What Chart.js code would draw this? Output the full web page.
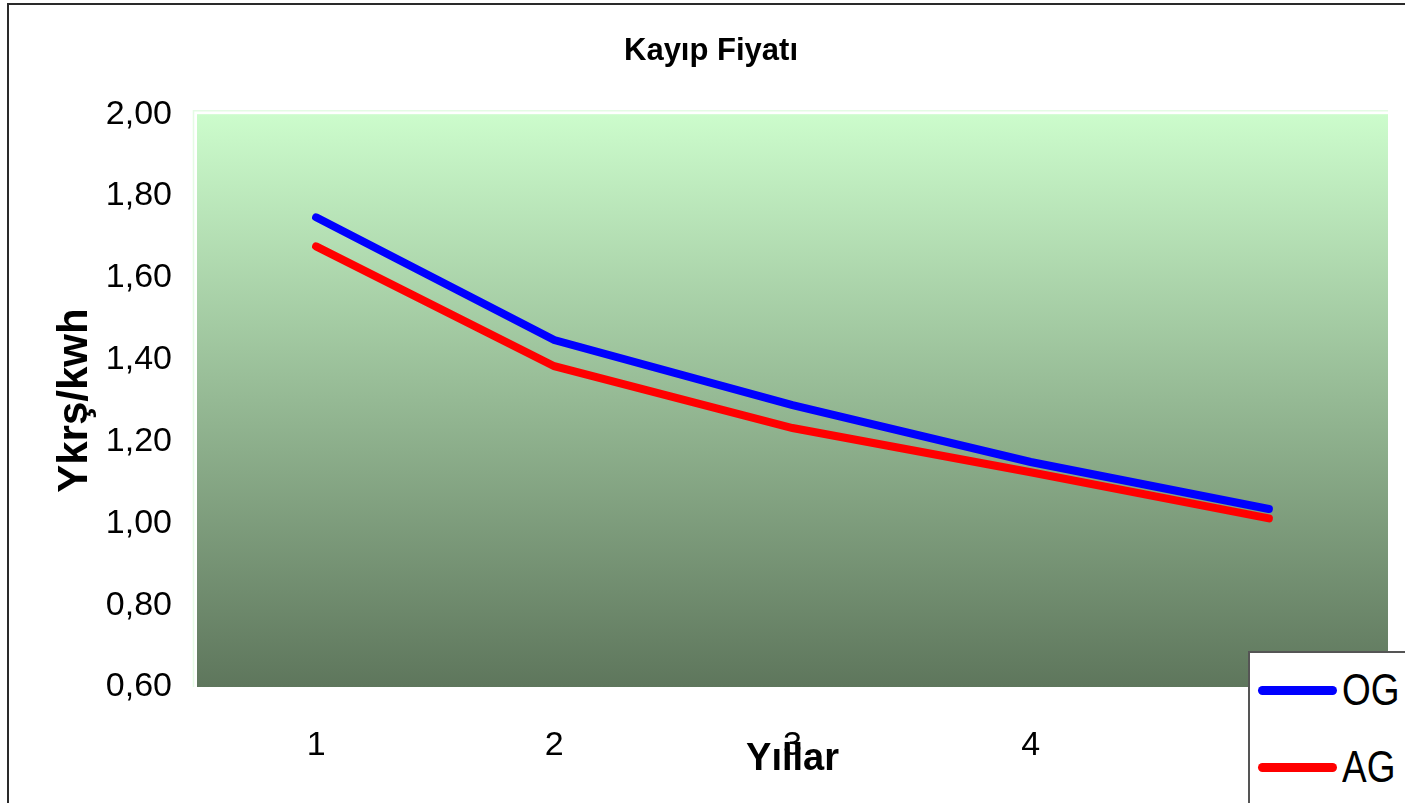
<!DOCTYPE html>
<html lang="tr">
<head>
    <meta charset="UTF-8">
    <title>Kayıp Fiyatı</title>
    <script src="https://cdn.jsdelivr.net/npm/chart.js"></script>
    <style>
        body { margin: 0; overflow: hidden; background: #fff; }
        #wrap { position: relative; width: 1405px; height: 803px; overflow: hidden; }
        #frame { position: absolute; left: 7px; top: 3px; width: 1600px; height: 1000px;
                 border-left: 2px solid #2a2a2a; border-top: 2px solid #2a2a2a; }
        #graph { position: absolute; left: 0; top: 0; }
        #legend { position: absolute; left: 1248px; top: 651px; width: 300px; height: 300px;
                  background: #fff; border-left: 2px solid #555; border-top: 2px solid #555; }
        .item { position: absolute; left: 8px; height: 50px; display: flex; align-items: center;
                font-family: 'Liberation Sans', Arial, sans-serif; font-size: 44px; }
        .item span.line { display: inline-block; width: 79px; height: 9px; border-radius: 5px; margin-right: 5px; }
        .item span.txt { display: inline-block; transform: scaleX(0.84); transform-origin: left center; }
    </style>
</head>
<body>
<div id="wrap">
    <div id="frame"></div>
    <canvas id="graph" width="1405" height="803"></canvas>
    <div id="legend"></div>
</div>

<script>
    // veriler
    const years = ['1', '2', '3', '4', '5'];
    const og = [1.748, 1.448, 1.289, 1.150, 1.035];
    const ag = [1.677, 1.384, 1.233, 1.125, 1.012];
    const seriesNames = ['OG', 'AG'];
    const seriesColors = ['#0000ff', '#ff0000'];

    const font = "'Liberation Sans', Arial, sans-serif";

    // çizim alanı arka planı (yeşil degrade)
    const plotBg = {
        id: 'plotBg',
        beforeDraw(chart) {
            const { ctx, chartArea: a } = chart;
            const g = ctx.createLinearGradient(0, a.top, 0, a.bottom);
            g.addColorStop(0, 'rgb(204,252,204)');
            g.addColorStop(1, 'rgb(94,118,92)');
            ctx.save();
            ctx.fillStyle = g;
            ctx.fillRect(a.left, a.top, a.right - a.left, a.bottom - a.top);
            ctx.strokeStyle = '#e4fbe4';
            ctx.lineWidth = 1.5;
            ctx.beginPath();
            ctx.moveTo(a.left - 3.5, a.bottom);
            ctx.lineTo(a.left - 3.5, a.top - 3.5);
            ctx.lineTo(a.right, a.top - 3.5);
            ctx.stroke();
            ctx.restore();
        }
    };

    const ctx = document.getElementById('graph').getContext('2d');
    const chart = new Chart(ctx, {
        type: 'line',
        data: {
            labels: years,
            datasets: [
                { label: seriesNames[0], data: og, borderColor: seriesColors[0] },
                { label: seriesNames[1], data: ag, borderColor: seriesColors[1] }
            ]
        },
        options: {
            responsive: false,
            animation: false,
            layout: { padding: { left: 34, right: 17, top: 0, bottom: 0 } },
            elements: {
                line: { borderWidth: 8, borderCapStyle: 'round', borderJoinStyle: 'miter', tension: 0, fill: false },
                point: { radius: 0, hoverRadius: 0 }
            },
            plugins: {
                legend: { display: false },
                tooltip: { enabled: false },
                title: {
                    display: true,
                    text: 'Kayıp Fiyatı',
                    color: '#000',
                    font: { family: font, size: 31, weight: 'bold', lineHeight: 1.2 },
                    padding: { top: 33, bottom: 44 }
                }
            },
            scales: {
                x: {
                    offset: true,
                    grid: { display: false, drawTicks: false },
                    border: { display: false },
                    ticks: { color: '#000', padding: 38, font: { family: font, size: 34, lineHeight: 1.2 } },
                    title: {
                        display: true,
                        text: 'Yıllar',
                        color: '#000',
                        font: { family: font, size: 38, weight: 'bold', lineHeight: 1.2 },
                        padding: { top: 0, bottom: 21 }
                    },
                    afterFit(s) { s.height = 116; }
                },
                y: {
                    min: 0.6,
                    max: 2.0,
                    grid: { display: false, drawTicks: false },
                    border: { display: false },
                    ticks: {
                        stepSize: 0.2,
                        color: '#000',
                        padding: 25,
                        font: { family: font, size: 34, lineHeight: 1.2 },
                        callback: v => v.toFixed(2).replace('.', ',')
                    },
                    title: {
                        display: true,
                        text: 'Ykrş/kwh',
                        color: '#000',
                        font: { family: font, size: 42, weight: 'bold', lineHeight: 1.2 },
                        padding: { top: 16, bottom: 0 }
                    },
                    afterFit(s) { s.width = 163; }
                }
            }
        },
        plugins: [plotBg]
    });

    // açıklama kutusu
    const legend = document.getElementById('legend');
    seriesNames.forEach((name, i) => {
        const item = document.createElement('div');
        item.className = 'item';
        item.style.top = (12 + i * 77) + 'px';
        item.innerHTML = '<span class="line" style="background:' + seriesColors[i] + '"></span>' +
            '<span class="txt">' + name + '</span>';
        legend.appendChild(item);
    });
</script>
</body>
</html>
